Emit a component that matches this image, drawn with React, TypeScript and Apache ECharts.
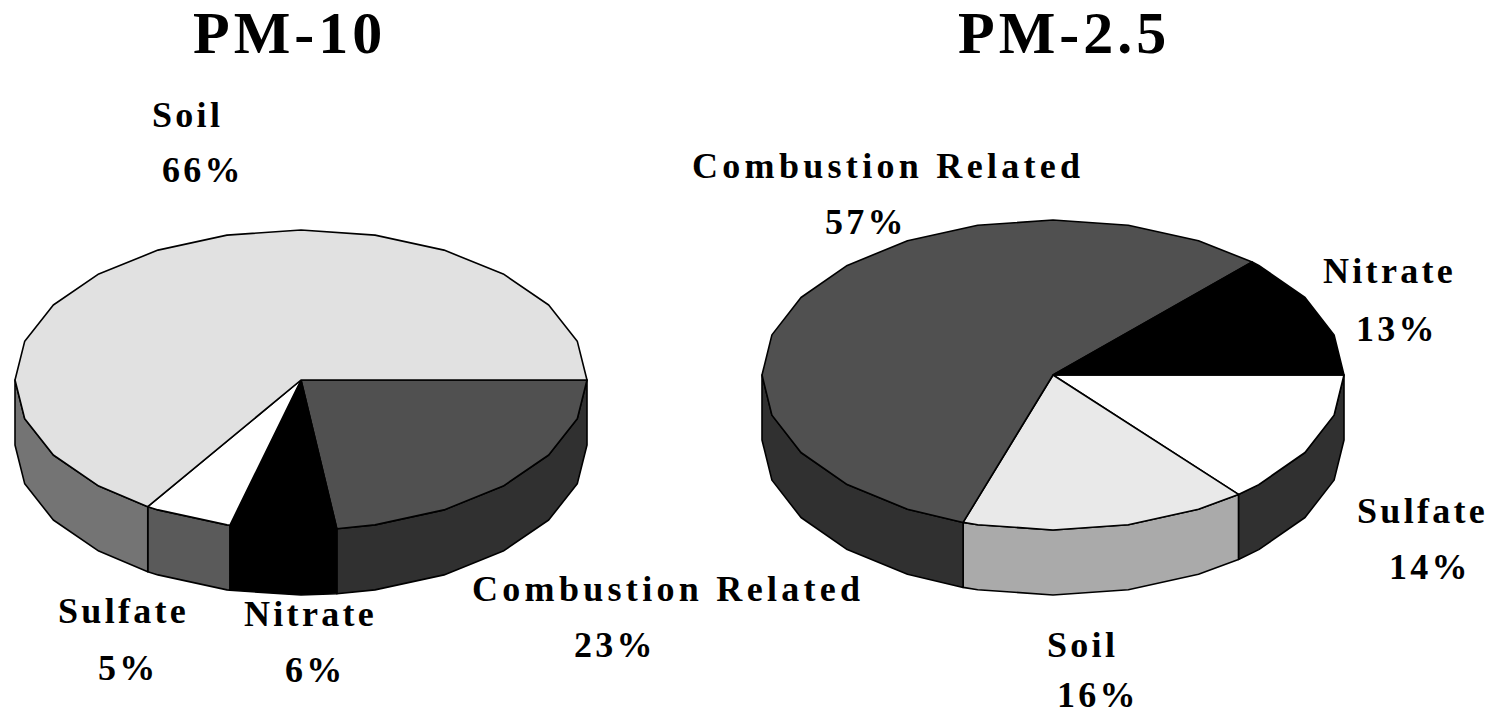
import React, { useEffect, useRef } from "react";
import * as echarts from "echarts";

const pm10Categories = ["Combustion Related", "Nitrate", "Sulfate", "Soil"];
const pm10Values = [23, 6, 5, 66];
const pm25Categories = ["Sulfate", "Soil", "Combustion Related", "Nitrate"];
const pm25Values = [14, 16, 57, 13];

const pm10TopColors = ["#505050", "#000000", "#ffffff", "#e1e1e1"];
const pm10SideColors = ["#303030", "#000000", "#5a5a5a", "#747474"];
const pm25TopColors = ["#ffffff", "#e9e9e9", "#505050", "#000000"];
const pm25SideColors = ["#303030", "#aaaaaa", "#303030", "#000000"];

const FACET = 15;
const SERIF = '"Liberation Serif", "Times New Roman", serif';

type Geo = { cx: number; cy: number; rx: number; ry: number; depth: number };

function arcAngles(a0: number, a1: number) {
  const out = [a0];
  let k = Math.floor(a0 / FACET) + 1;
  while (k * FACET < a1) {
    out.push(k * FACET);
    k++;
  }
  out.push(a1);
  return out;
}

function pieSeries(name: string, cats: string[], vals: number[], tops: string[], sides: string[], g: Geo) {
  const total = vals.reduce((a, b) => a + b, 0);
  const pt = (deg: number, dy = 0) => {
    const r = (deg * Math.PI) / 180;
    return [g.cx + g.rx * Math.cos(r), g.cy + g.ry * Math.sin(r) + dy];
  };
  return {
    type: "custom",
    name,
    coordinateSystem: "none",
    silent: true,
    data: cats.map((c, i) => ({ name: c, value: [vals[i]] })),
    renderItem: (params: any, api: any) => {
      const i = params.dataIndex;
      const before = vals.slice(0, i).reduce((a, b) => a + b, 0);
      const a0 = (before / total) * 360;
      const a1 = a0 + (api.value(0) / total) * 360;
      const children: any[] = [];
      const w0 = Math.max(a0, 0);
      const w1 = Math.min(a1, 180);
      if (w1 > w0) {
        const angs = arcAngles(w0, w1);
        children.push({
          type: "polygon",
          shape: { points: [...angs.map((a) => pt(a)), ...angs.slice().reverse().map((a) => pt(a, g.depth))] },
          style: { fill: sides[i], stroke: "#000", lineWidth: 1.6, lineJoin: "round" },
        });
      }
      children.push({
        type: "polygon",
        shape: { points: [[g.cx, g.cy], ...arcAngles(a0, a1).map((a) => pt(a))] },
        style: { fill: tops[i], stroke: "#000", lineWidth: 1.6, lineJoin: "round" },
      });
      return { type: "group", children };
    },
  };
}

const titles: [string, number, number][] = [
  ["PM-10", 193, 33],
  ["PM-2.5", 958, 33],
];
const labels: [string, number, number][] = [
  ["Soil", 152, 115],
  ["66%", 162, 170],
  ["Combustion Related", 472, 589],
  ["23%", 574, 645],
  ["Sulfate", 58, 611],
  ["5%", 98, 668],
  ["Nitrate", 244, 614],
  ["6%", 285, 670],
  ["Combustion Related", 692, 166],
  ["57%", 825, 222],
  ["Nitrate", 1323, 271],
  ["13%", 1356, 329],
  ["Sulfate", 1357, 511],
  ["14%", 1389, 567],
  ["Soil", 1047, 645],
  ["16%", 1057, 695],
];

export default function App() {
  const ref = useRef<HTMLDivElement>(null);
  useEffect(() => {
    document.body.style.margin = "0";
    const chart = echarts.init(ref.current!, null, { renderer: "svg" });
    const text = (t: [string, number, number], size: number) => ({
      type: "text",
      x: t[1],
      y: t[2],
      style: {
        text: t[0],
        fill: "#000",
        font: `bold ${size}px ${SERIF}`,
        textAlign: "left",
        textVerticalAlign: "middle",
      },
    });
    chart.setOption({
      animation: false,
      backgroundColor: "#ffffff",
      series: [
        pieSeries("PM-10", pm10Categories, pm10Values, pm10TopColors, pm10SideColors, { cx: 301, cy: 380, rx: 286, ry: 150, depth: 65 }),
        pieSeries("PM-2.5", pm25Categories, pm25Values, pm25TopColors, pm25SideColors, { cx: 1053, cy: 375, rx: 291, ry: 155, depth: 65 }),
      ],
      graphic: [...titles.map((t) => text(t, 60)), ...labels.map((t) => text(t, 36))],
    });
    ref.current!.querySelectorAll("text").forEach((el) => {
      const big = (el.getAttribute("style") || "").includes("60px");
      const long = (el.textContent || "").length > 10;
      (el as SVGTextElement).style.letterSpacing = big ? "4px" : long ? "4.3px" : "3.3px";
    });
    return () => chart.dispose();
  }, []);
  return <div ref={ref} style={{ width: 1492, height: 715, position: "absolute", left: 0, top: 0 }} />;
}
